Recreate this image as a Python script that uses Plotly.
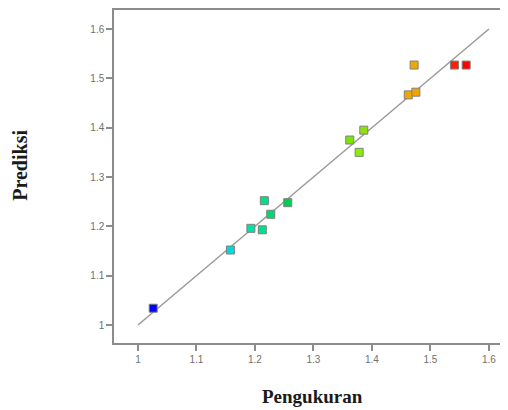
import plotly.graph_objects as go

measured = [1.026, 1.158, 1.193, 1.2125, 1.216, 1.227, 1.256, 1.362, 1.386, 1.378,
            1.462, 1.475, 1.472, 1.541, 1.561]
predicted = [1.034, 1.152, 1.196, 1.193, 1.252, 1.2245, 1.248, 1.375, 1.395, 1.350,
             1.4665, 1.472, 1.527, 1.527, 1.527]
colors = ["#0000FF", "#00D8E0", "#00E0A8", "#00E090", "#00E080", "#00D870", "#00D050",
          "#78E800", "#90E010", "#88F000",
          "#F0A800", "#F0A400", "#F0A800", "#FF2000", "#FF0000"]
fit_x = [1.0, 1.6]
fit_y = [1.0, 1.6]
tick_vals = [1, 1.1, 1.2, 1.3, 1.4, 1.5, 1.6]
tick_text = ["1", "1.1", "1.2", "1.3", "1.4", "1.5", "1.6"]

fig = go.Figure()
fig.add_trace(go.Scatter(x=fit_x, y=fit_y, mode="lines",
                         line=dict(color="#9a9a9a", width=1.5), showlegend=False))
fig.add_trace(go.Scatter(x=measured, y=predicted, mode="markers",
                         marker=dict(symbol="square", size=8, color=colors,
                                     line=dict(color="#808080", width=1)),
                         showlegend=False))

axis_common = dict(showgrid=False, zeroline=False, showline=True, linecolor="#8c8c8c",
                   linewidth=1.5, ticks="outside", ticklen=6, tickcolor="#8c8c8c",
                   tickwidth=1.5, tickvals=tick_vals, ticktext=tick_text,
                   tickfont=dict(family="Liberation Sans, Arial", size=10, color="#707070"))

fig.update_xaxes(range=[0.959, 1.6462], mirror=True, **axis_common)
fig.update_yaxes(range=[0.9635, 1.6386], mirror=False, **axis_common)

fig.update_layout(
    width=508, height=410,
    margin=dict(l=106, r=0, t=2, b=75),
    plot_bgcolor="white", paper_bgcolor="white",
    annotations=[
        dict(text="<b>Pengukuran</b>", xref="paper", yref="paper", x=0.495, y=-0.16,
             xanchor="center", yanchor="middle", showarrow=False,
             font=dict(family="Liberation Serif, Times New Roman", size=19, color="#1a1a1a")),
        dict(text="<b>Prediksi</b>", xref="paper", yref="paper", x=-0.234, y=0.535,
             xanchor="center", yanchor="middle", showarrow=False, textangle=-90,
             font=dict(family="Liberation Serif, Times New Roman", size=20, color="#1a1a1a")),
    ],
)

fig.write_html("out.html")
